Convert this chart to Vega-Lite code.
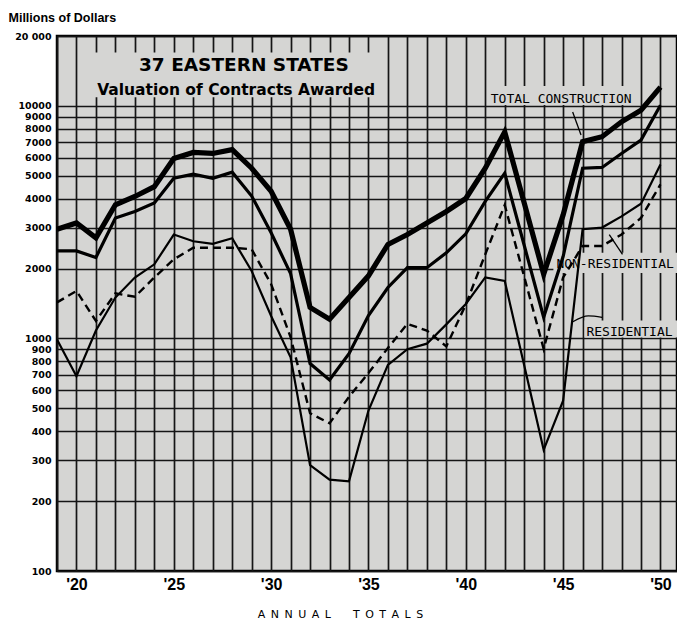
{
  "$schema": "https://vega.github.io/schema/vega-lite/v6.json",
  "autosize": {"type": "none"},
  "width": 620,
  "height": 535,
  "padding": {"left": 57, "top": 36, "right": 0, "bottom": 51},
  "background": "white",
  "config": {
    "view": {"fill": "#d5d5d3", "stroke": "#000", "strokeWidth": 2.5},
    "font": "DejaVu Sans"
  },
  "datasets": {
    "series": [
      {"series": "Total Construction", "year": 1919, "value": 2950},
      {"series": "Total Construction", "year": 1920, "value": 3140},
      {"series": "Total Construction", "year": 1921, "value": 2710},
      {"series": "Total Construction", "year": 1922, "value": 3760},
      {"series": "Total Construction", "year": 1923, "value": 4080},
      {"series": "Total Construction", "year": 1924, "value": 4500},
      {"series": "Total Construction", "year": 1925, "value": 5950},
      {"series": "Total Construction", "year": 1926, "value": 6310},
      {"series": "Total Construction", "year": 1927, "value": 6250},
      {"series": "Total Construction", "year": 1928, "value": 6490},
      {"series": "Total Construction", "year": 1929, "value": 5400},
      {"series": "Total Construction", "year": 1930, "value": 4300},
      {"series": "Total Construction", "year": 1931, "value": 2950},
      {"series": "Total Construction", "year": 1932, "value": 1360},
      {"series": "Total Construction", "year": 1933, "value": 1210},
      {"series": "Total Construction", "year": 1934, "value": 1500},
      {"series": "Total Construction", "year": 1935, "value": 1860},
      {"series": "Total Construction", "year": 1936, "value": 2540},
      {"series": "Total Construction", "year": 1937, "value": 2800},
      {"series": "Total Construction", "year": 1938, "value": 3140},
      {"series": "Total Construction", "year": 1939, "value": 3520},
      {"series": "Total Construction", "year": 1940, "value": 4000},
      {"series": "Total Construction", "year": 1941, "value": 5400},
      {"series": "Total Construction", "year": 1942, "value": 7740},
      {"series": "Total Construction", "year": 1943, "value": 3830},
      {"series": "Total Construction", "year": 1944, "value": 1890},
      {"series": "Total Construction", "year": 1945, "value": 3400},
      {"series": "Total Construction", "year": 1946, "value": 7020},
      {"series": "Total Construction", "year": 1947, "value": 7375},
      {"series": "Total Construction", "year": 1948, "value": 8550},
      {"series": "Total Construction", "year": 1949, "value": 9590},
      {"series": "Total Construction", "year": 1950, "value": 12050},
      {"series": "Total Building", "year": 1919, "value": 2380},
      {"series": "Total Building", "year": 1920, "value": 2380},
      {"series": "Total Building", "year": 1921, "value": 2230},
      {"series": "Total Building", "year": 1922, "value": 3300},
      {"series": "Total Building", "year": 1923, "value": 3520},
      {"series": "Total Building", "year": 1924, "value": 3830},
      {"series": "Total Building", "year": 1925, "value": 4890},
      {"series": "Total Building", "year": 1926, "value": 5090},
      {"series": "Total Building", "year": 1927, "value": 4890},
      {"series": "Total Building", "year": 1928, "value": 5190},
      {"series": "Total Building", "year": 1929, "value": 4100},
      {"series": "Total Building", "year": 1930, "value": 2850},
      {"series": "Total Building", "year": 1931, "value": 1900},
      {"series": "Total Building", "year": 1932, "value": 780},
      {"series": "Total Building", "year": 1933, "value": 663},
      {"series": "Total Building", "year": 1934, "value": 860},
      {"series": "Total Building", "year": 1935, "value": 1254},
      {"series": "Total Building", "year": 1936, "value": 1657},
      {"series": "Total Building", "year": 1937, "value": 2017},
      {"series": "Total Building", "year": 1938, "value": 2017},
      {"series": "Total Building", "year": 1939, "value": 2337},
      {"series": "Total Building", "year": 1940, "value": 2820},
      {"series": "Total Building", "year": 1941, "value": 3890},
      {"series": "Total Building", "year": 1942, "value": 5140},
      {"series": "Total Building", "year": 1943, "value": 2517},
      {"series": "Total Building", "year": 1944, "value": 1234},
      {"series": "Total Building", "year": 1945, "value": 2250},
      {"series": "Total Building", "year": 1946, "value": 5400},
      {"series": "Total Building", "year": 1947, "value": 5440},
      {"series": "Total Building", "year": 1948, "value": 6250},
      {"series": "Total Building", "year": 1949, "value": 7130},
      {"series": "Total Building", "year": 1950, "value": 10070},
      {"series": "Residential", "year": 1919, "value": 990},
      {"series": "Residential", "year": 1920, "value": 688},
      {"series": "Residential", "year": 1921, "value": 1082},
      {"series": "Residential", "year": 1922, "value": 1500},
      {"series": "Residential", "year": 1923, "value": 1830},
      {"series": "Residential", "year": 1924, "value": 2085},
      {"series": "Residential", "year": 1925, "value": 2800},
      {"series": "Residential", "year": 1926, "value": 2620},
      {"series": "Residential", "year": 1927, "value": 2555},
      {"series": "Residential", "year": 1928, "value": 2700},
      {"series": "Residential", "year": 1929, "value": 1950},
      {"series": "Residential", "year": 1930, "value": 1250},
      {"series": "Residential", "year": 1931, "value": 830},
      {"series": "Residential", "year": 1932, "value": 285},
      {"series": "Residential", "year": 1933, "value": 247},
      {"series": "Residential", "year": 1934, "value": 243},
      {"series": "Residential", "year": 1935, "value": 490},
      {"series": "Residential", "year": 1936, "value": 770},
      {"series": "Residential", "year": 1937, "value": 900},
      {"series": "Residential", "year": 1938, "value": 950},
      {"series": "Residential", "year": 1939, "value": 1150},
      {"series": "Residential", "year": 1940, "value": 1407},
      {"series": "Residential", "year": 1941, "value": 1830},
      {"series": "Residential", "year": 1942, "value": 1770},
      {"series": "Residential", "year": 1943, "value": 767},
      {"series": "Residential", "year": 1944, "value": 332},
      {"series": "Residential", "year": 1945, "value": 540},
      {"series": "Residential", "year": 1946, "value": 2950},
      {"series": "Residential", "year": 1947, "value": 3000},
      {"series": "Residential", "year": 1948, "value": 3350},
      {"series": "Residential", "year": 1949, "value": 3800},
      {"series": "Residential", "year": 1950, "value": 5600},
      {"series": "Non-Residential", "year": 1919, "value": 1430},
      {"series": "Non-Residential", "year": 1920, "value": 1600},
      {"series": "Non-Residential", "year": 1921, "value": 1190},
      {"series": "Non-Residential", "year": 1922, "value": 1563},
      {"series": "Non-Residential", "year": 1923, "value": 1512},
      {"series": "Non-Residential", "year": 1924, "value": 1830},
      {"series": "Non-Residential", "year": 1925, "value": 2190},
      {"series": "Non-Residential", "year": 1926, "value": 2455},
      {"series": "Non-Residential", "year": 1927, "value": 2455},
      {"series": "Non-Residential", "year": 1928, "value": 2455},
      {"series": "Non-Residential", "year": 1929, "value": 2420},
      {"series": "Non-Residential", "year": 1930, "value": 1713},
      {"series": "Non-Residential", "year": 1931, "value": 1013},
      {"series": "Non-Residential", "year": 1932, "value": 477},
      {"series": "Non-Residential", "year": 1933, "value": 432},
      {"series": "Non-Residential", "year": 1934, "value": 561},
      {"series": "Non-Residential", "year": 1935, "value": 710},
      {"series": "Non-Residential", "year": 1936, "value": 910},
      {"series": "Non-Residential", "year": 1937, "value": 1156},
      {"series": "Non-Residential", "year": 1938, "value": 1082},
      {"series": "Non-Residential", "year": 1939, "value": 925},
      {"series": "Non-Residential", "year": 1940, "value": 1400},
      {"series": "Non-Residential", "year": 1941, "value": 2300},
      {"series": "Non-Residential", "year": 1942, "value": 3750},
      {"series": "Non-Residential", "year": 1943, "value": 1845},
      {"series": "Non-Residential", "year": 1944, "value": 903},
      {"series": "Non-Residential", "year": 1945, "value": 1830},
      {"series": "Non-Residential", "year": 1946, "value": 2500},
      {"series": "Non-Residential", "year": 1947, "value": 2500},
      {"series": "Non-Residential", "year": 1948, "value": 2800},
      {"series": "Non-Residential", "year": 1949, "value": 3300},
      {"series": "Non-Residential", "year": 1950, "value": 4600}
    ],
    "boxes": [
      {"name": "title", "year": 1920.8, "year2": 1935.3, "value": 10900, "value2": 17000},
      {"name": "total", "year": 1941.2, "year2": 1948.7, "value": 10100, "value2": 12200},
      {"name": "nonres", "year": 1944.5, "year2": 1950.85, "value": 1914, "value2": 2336},
      {"name": "res", "year": 1946.1, "year2": 1950.85, "value": 1010, "value2": 1194}
    ],
    "pointers": [
      {"id": "total", "year": 1945.49, "value": 9430},
      {"id": "total", "year": 1945.92, "value": 7500},
      {"id": "nonres", "year": 1947.37, "value": 2800},
      {"id": "nonres", "year": 1948.05, "value": 2300},
      {"id": "res", "year": 1945.5, "value": 1180},
      {"id": "res", "year": 1946.3, "value": 1250},
      {"id": "res", "year": 1947.0, "value": 1233}
    ],
    "title1": [{"text": "37 EASTERN STATES", "year": 1928.6, "value": 14190}],
    "title2": [{"text": "Valuation of Contracts Awarded", "year": 1928.2, "value": 11140}],
    "labels": [
      {"text": "TOTAL CONSTRUCTION", "year": 1944.9, "value": 10250},
      {"text": "NON-RESIDENTIAL", "year": 1947.67, "value": 2010},
      {"text": "RESIDENTIAL", "year": 1948.41, "value": 1030}
    ]
  },
  "encoding": {
    "x": {
      "field": "year",
      "type": "quantitative",
      "scale": {"type": "linear", "domain": [1919, 1950.85], "nice": false, "zero": false},
      "axis": {
        "values": [1919,1920,1921,1922,1923,1924,1925,1926,1927,1928,1929,1930,1931,1932,1933,1934,1935,1936,1937,1938,1939,1940,1941,1942,1943,1944,1945,1946,1947,1948,1949,1950],
        "labelExpr": "datum.value % 5 == 0 ? \"'\" + (datum.value - 1900) : ''",
        "grid": true,
        "gridColor": "#151515",
        "gridWidth": 1.7,
        "ticks": false,
        "domain": false,
        "labelFont": "Liberation Sans",
        "labelFontWeight": "bold",
        "labelFontSize": 16,
        "labelColor": "#000",
        "labelPadding": 5,
        "labelFlush": false,
        "labelOverlap": false,
        "title": "A\u2002N\u2002N\u2002U\u2002A\u2002L\u2002\u2002\u2002\u2002T\u2002O\u2002T\u2002A\u2002L\u2002S",
        "titleFont": "DejaVu Sans",
        "titleFontSize": 11,
        "titleFontWeight": "normal",
        "titleColor": "#000",
        "titleX": 283,
        "titleY": 46,
        "titleAlign": "center",
        "titleBaseline": "alphabetic"
      }
    },
    "y": {
      "field": "value",
      "type": "quantitative",
      "scale": {"type": "log", "domain": [100, 20000], "nice": false},
      "axis": {
        "values": [100,200,300,400,500,600,700,800,900,1000,2000,3000,4000,5000,6000,7000,8000,9000,10000,20000],
        "labelExpr": "datum.value == 20000 ? '20 000' : format(datum.value, 'd')",
        "grid": true,
        "gridColor": "#151515",
        "gridWidth": 1.7,
        "ticks": false,
        "domain": false,
        "labelFont": "DejaVu Sans",
        "labelFontWeight": "bold",
        "labelFontSize": 9.5,
        "labelColor": "#000",
        "labelPadding": 6,
        "labelOverlap": false,
        "labelBaseline": "middle",
        "title": "Millions of Dollars",
        "titleFont": "Liberation Sans",
        "titleFontSize": 12.5,
        "titleFontWeight": "bold",
        "titleColor": "#000",
        "titleAngle": 0,
        "titleX": -49,
        "titleY": -15,
        "titleAlign": "left",
        "titleBaseline": "alphabetic"
      }
    }
  },
  "layer": [
    {
      "data": {"name": "boxes"},
      "mark": {"type": "rect", "fill": "#d5d5d3"},
      "encoding": {
        "x2": {"field": "year2"},
        "y2": {"field": "value2"}
      }
    },
    {
      "data": {"name": "series"},
      "transform": [{"filter": "datum.series == 'Non-Residential'"}],
      "mark": {"type": "line", "color": "#000", "strokeWidth": 2.4, "strokeDash": [8, 5]},
      "encoding": {}
    },
    {
      "data": {"name": "series"},
      "transform": [{"filter": "datum.series == 'Residential'"}],
      "mark": {"type": "line", "color": "#000", "strokeWidth": 2.2},
      "encoding": {}
    },
    {
      "data": {"name": "series"},
      "transform": [{"filter": "datum.series == 'Total Building'"}],
      "mark": {"type": "line", "color": "#000", "strokeWidth": 3.2},
      "encoding": {}
    },
    {
      "data": {"name": "series"},
      "transform": [{"filter": "datum.series == 'Total Construction'"}],
      "mark": {"type": "line", "color": "#000", "strokeWidth": 5.2},
      "encoding": {}
    },
    {
      "data": {"name": "pointers"},
      "mark": {"type": "line", "color": "#000", "strokeWidth": 1.3, "interpolate": "monotone"},
      "encoding": {"detail": {"field": "id"}}
    },
    {
      "data": {"name": "title1"},
      "mark": {"type": "text", "font": "DejaVu Sans", "fontWeight": "bold", "fontSize": 18.5, "align": "center", "baseline": "alphabetic", "color": "#000"},
      "encoding": {"text": {"field": "text"}}
    },
    {
      "data": {"name": "title2"},
      "mark": {"type": "text", "font": "DejaVu Sans", "fontWeight": "bold", "fontSize": 15.5, "align": "center", "baseline": "alphabetic", "color": "#000"},
      "encoding": {"text": {"field": "text"}}
    },
    {
      "data": {"name": "labels"},
      "mark": {"type": "text", "font": "DejaVu Sans Mono", "fontSize": 13, "align": "center", "baseline": "alphabetic", "color": "#000"},
      "encoding": {"text": {"field": "text"}}
    }
  ]
}
